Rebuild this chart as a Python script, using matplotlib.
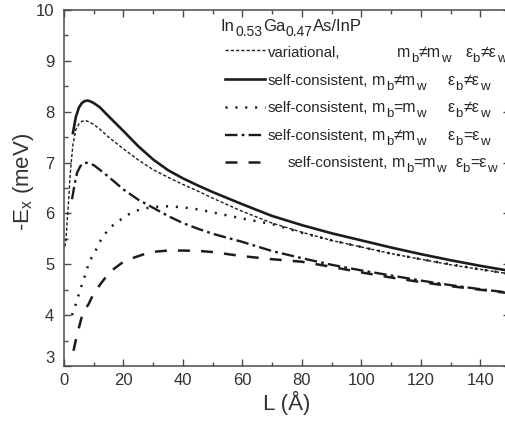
import matplotlib
matplotlib.use("Agg")
import matplotlib.pyplot as plt
from matplotlib.lines import Line2D
from matplotlib.ticker import MultipleLocator

plt.rcParams['font.family'] = ['Liberation Sans', 'DejaVu Sans']
plt.rcParams['mathtext.default'] = 'regular'
plt.rcParams['lines.scale_dashes'] = False

# ---- exciton binding energy vs. well width ----
L_var = [0.3, 0.7, 1, 1.5, 2, 2.5, 3, 4, 5, 6, 7, 8, 10, 12, 15, 20, 25, 30, 35,
         40, 45, 50, 60, 70, 80, 90, 100, 110, 120, 130, 140, 150]
E_var = [5.35, 5.50, 5.80, 6.20, 6.70, 7.05, 7.35, 7.65, 7.76, 7.81, 7.83, 7.81,
         7.75, 7.66, 7.50, 7.27, 7.05, 6.86, 6.71, 6.57, 6.44, 6.30, 6.04, 5.81,
         5.63, 5.47, 5.34, 5.21, 5.10, 4.99, 4.90, 4.81]

L_sc = [3, 4, 5, 6, 7, 8, 9, 10, 12, 15, 20, 25, 30, 35, 40, 45, 50, 60, 70,
        80, 90, 100, 110, 120, 130, 140, 150]
E_sc = [7.58, 7.90, 8.08, 8.17, 8.21, 8.22, 8.20, 8.17, 8.09, 7.91, 7.62, 7.32,
        7.06, 6.85, 6.69, 6.55, 6.42, 6.18, 5.95, 5.77, 5.61, 5.47, 5.33, 5.20,
        5.08, 4.97, 4.87]

L_eqm = [2.7, 4, 5.5, 7, 8.5, 11, 13, 17, 22, 26, 31, 35, 40, 45, 50, 55, 60,
         70, 80, 90, 100, 110, 120, 130, 140, 150]
E_eqm = [4.00, 4.22, 4.51, 4.77, 5.05, 5.31, 5.55, 5.80, 5.99, 6.09, 6.13, 6.14,
         6.12, 6.08, 6.02, 5.96, 5.90, 5.79, 5.62, 5.47, 5.34, 5.21, 5.10, 5.00,
         4.90, 4.81]

L_eqe = [2.7, 3.5, 4.4, 5.5, 7, 8, 10, 12, 15, 20, 25, 30, 35, 40, 45, 50, 60,
         70, 80, 90, 100, 110, 120, 130, 140, 150]
E_eqe = [6.28, 6.55, 6.80, 6.93, 7.00, 6.99, 6.95, 6.86, 6.72, 6.47, 6.27, 6.11,
         5.95, 5.81, 5.70, 5.60, 5.44, 5.26, 5.12, 4.99, 4.88, 4.78, 4.68, 4.59,
         4.51, 4.44]

L_eqb = [3.2, 4.3, 5.1, 6.3, 8.3, 10, 12.5, 15.4, 19.3, 23, 27, 31, 35, 40, 46,
         50, 60, 70, 80, 90, 100, 110, 120, 130, 140, 150]
E_eqb = [3.30, 3.60, 3.77, 4.04, 4.22, 4.43, 4.63, 4.85, 5.02, 5.12, 5.20, 5.25,
         5.27, 5.27, 5.26, 5.24, 5.16, 5.10, 5.05, 4.95, 4.84, 4.74, 4.65, 4.57,
         4.50, 4.43]

x_ticks = [0, 20, 40, 60, 80, 100, 120, 140]
y_ticks = [3, 4, 5, 6, 7, 8, 9, 10]

INK = '#1c1c1c'
GREY = '#4a4a4a'

styles = {
    'var': dict(color=INK, lw=1.0, dashes=(2.3, 1.5)),
    'sc':  dict(color=INK, lw=1.9, linestyle='-'),
    'eqm': dict(color=INK, lw=1.8, dashes=(1.5, 5.6)),
    'eqe': dict(color=INK, lw=1.7, dashes=(9.0, 3.0, 2.0, 3.0)),
    'eqb': dict(color=INK, lw=1.8, dashes=(8.6, 8.0)),
}

W, H = 505, 424
fig = plt.figure(figsize=(W / 100, H / 100), dpi=100)
ax = fig.add_axes([64 / W, (H - 366) / H, 446 / W, 356 / H])

ax.plot(L_var, E_var, **styles['var'])
ax.plot(L_sc, E_sc, **styles['sc'])
ax.plot(L_eqm, E_eqm, **styles['eqm'])
ax.plot(L_eqe, E_eqe, **styles['eqe'])
ax.plot(L_eqb, E_eqb, **styles['eqb'])

ax.set_xlim(0, 150)
ax.set_ylim(3, 10)
ax.set_xticks(x_ticks)
ax.set_yticks(y_ticks)
ax.xaxis.set_minor_locator(MultipleLocator(10))
ax.yaxis.set_minor_locator(MultipleLocator(0.5))
ax.tick_params(which='both', direction='in', top=True, right=True,
               color=GREY, width=1.0, labelcolor='#333333', labelsize=12)
ax.tick_params(which='major', length=5)
ax.tick_params(which='minor', length=3)
ax.tick_params(axis='x', pad=5)
ax.tick_params(axis='y', pad=7)
for s in ax.spines.values():
    s.set_color(GREY)
    s.set_linewidth(1.1)

# lift the lowest y label clear of the x-axis labels
ax.yaxis.get_major_ticks()[0].label1.set_verticalalignment('bottom')

ax.set_xlabel('L (Å)', fontsize=16, color='#333333', labelpad=2)
ax.set_ylabel('-E$_x$ (meV)', fontsize=16, color='#333333')
ax.yaxis.set_label_coords((36 - 64) / 446, (366 - 182) / 356)


def fx(px):
    return px / W


def fy(py):
    return 1 - py / H


TXT_COLOR = '#262626'
renderer = fig.canvas.get_renderer()


def run_text(x, y, pieces, size, subsize, drop):
    """Write text pieces one after another; flagged pieces are subscripts."""
    for s, sub in pieces:
        t = fig.text(fx(x), fy(y + (drop if sub else 0)), s,
                     fontsize=subsize if sub else size, color=TXT_COLOR,
                     transform=fig.transFigure, va='baseline', ha='left')
        x += t.get_window_extent(renderer).width + 0.5


def pair(a, op, b):
    return [(a, False), ('b', True), (op + a, False), ('w', True)]


run_text(221, 31, [('In', False), ('0.53', True), ('Ga', False),
                   ('0.47', True), ('As/InP', False)], 12, 10, 5)

rows = [
    ('var', 'variational,', 268, '≠', 397, '≠', 465),
    ('sc', 'self-consistent,', 268, '≠', 372, '≠', 448),
    ('eqm', 'self-consistent,', 268, '=', 372, '≠', 448),
    ('eqe', 'self-consistent,', 268, '≠', 372, '=', 448),
    ('eqb', 'self-consistent,', 288, '=', 392, '=', 455),
]
line_y = [50, 79, 107, 135, 162]
base_y = [57, 85, 112, 140, 167]

for (key, lab, x1, mop, x2, eop, x3), ly, by in zip(rows, line_y, base_y):
    fig.add_artist(Line2D([fx(225), fx(265)], [fy(ly), fy(ly)],
                          transform=fig.transFigure, **styles[key]))
    fig.text(fx(x1), fy(by), lab, fontsize=10.8, color=TXT_COLOR,
             transform=fig.transFigure, va='baseline', ha='left')
    run_text(x2, by, pair('m', mop, 'w'), 11.5, 9.5, 5)
    run_text(x3, by, pair('ε', eop, 'w'), 11.5, 9.5, 5)

fig.savefig('out.png', dpi=100)
